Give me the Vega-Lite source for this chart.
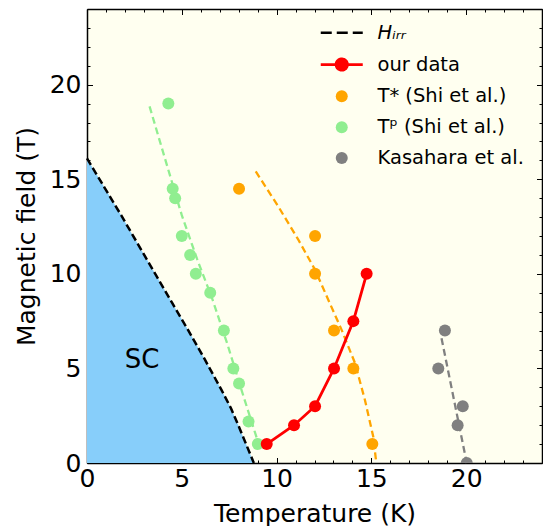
{
  "$schema": "https://vega.github.io/schema/vega-lite/v6.json",
  "autosize": "none",
  "width": 455,
  "height": 454,
  "padding": {"left": 87, "top": 9, "right": 1, "bottom": 63},
  "background": "white",
  "config": {
    "font": "DejaVu Sans",
    "view": {"stroke": null, "fill": "#fffff0"},
    "axis": {
      "grid": false, "zindex": 1, "domainColor": "black", "domainWidth": 1.5,
      "tickColor": "black", "tickWidth": 1, "labelColor": "black", "titleColor": "black",
      "titleFontWeight": "normal", "labelFontSize": 25, "titleFontSize": 25,
      "labelFlush": false, "labelOverlap": false, "labelFont": "DejaVu Sans", "titleFont": "DejaVu Sans"
    }
  },
  "datasets": {
    "hirr": [
      {"T": 0, "H": 16.1}, {"T": 0.9, "H": 14.6}, {"T": 1.8, "H": 13.1}, {"T": 2.7, "H": 11.55},
      {"T": 3.6, "H": 10.0}, {"T": 4.5, "H": 8.45}, {"T": 5.35, "H": 7.0}, {"T": 6.2, "H": 5.5},
      {"T": 7.1, "H": 3.85}, {"T": 7.6, "H": 2.88}, {"T": 8.0, "H": 1.95}, {"T": 8.8, "H": 0}
    ],
    "tp_fit": [
      {"T": 3.3, "H": 18.85}, {"T": 4.2, "H": 15.8}, {"T": 5.0, "H": 13.1}, {"T": 5.8, "H": 10.8},
      {"T": 6.6, "H": 8.7}, {"T": 7.4, "H": 6.3}, {"T": 8.2, "H": 3.7}, {"T": 9.15, "H": 0.7}
    ],
    "tstar_fit": [
      {"T": 8.9, "H": 15.41}, {"T": 10.09, "H": 13.56}, {"T": 11.15, "H": 11.8}, {"T": 12.03, "H": 10.21},
      {"T": 12.73, "H": 8.62}, {"T": 13.43, "H": 7.04}, {"T": 14.14, "H": 5.27}, {"T": 14.66, "H": 3.33},
      {"T": 15.1, "H": 1.39}, {"T": 15.26, "H": 0}
    ],
    "kas_fit": [
      {"T": 18.7, "H": 6.6}, {"T": 20.03, "H": 0}
    ],
    "our": [
      {"T": 9.48, "H": 1}, {"T": 10.92, "H": 2}, {"T": 12.03, "H": 3},
      {"T": 13.03, "H": 5}, {"T": 14.05, "H": 7.5}, {"T": 14.75, "H": 10}
    ],
    "points": [
      {"T": 8.02, "H": 14.5, "series": "T* (Shi et al.)"},
      {"T": 12.03, "H": 12, "series": "T* (Shi et al.)"},
      {"T": 12.03, "H": 10, "series": "T* (Shi et al.)"},
      {"T": 13.03, "H": 7, "series": "T* (Shi et al.)"},
      {"T": 14.05, "H": 5, "series": "T* (Shi et al.)"},
      {"T": 15.05, "H": 1, "series": "T* (Shi et al.)"},
      {"T": 4.29, "H": 19, "series": "Tᵖ (Shi et al.)"},
      {"T": 4.52, "H": 14.5, "series": "Tᵖ (Shi et al.)"},
      {"T": 4.65, "H": 14, "series": "Tᵖ (Shi et al.)"},
      {"T": 5.0, "H": 12, "series": "Tᵖ (Shi et al.)"},
      {"T": 5.44, "H": 11, "series": "Tᵖ (Shi et al.)"},
      {"T": 5.74, "H": 10, "series": "Tᵖ (Shi et al.)"},
      {"T": 6.5, "H": 9, "series": "Tᵖ (Shi et al.)"},
      {"T": 7.22, "H": 7, "series": "Tᵖ (Shi et al.)"},
      {"T": 7.72, "H": 5, "series": "Tᵖ (Shi et al.)"},
      {"T": 8.02, "H": 4.2, "series": "Tᵖ (Shi et al.)"},
      {"T": 8.52, "H": 2.2, "series": "Tᵖ (Shi et al.)"},
      {"T": 9.01, "H": 1, "series": "Tᵖ (Shi et al.)"},
      {"T": 18.88, "H": 7, "series": "Kasahara et al."},
      {"T": 18.53, "H": 5, "series": "Kasahara et al."},
      {"T": 19.82, "H": 3, "series": "Kasahara et al."},
      {"T": 19.55, "H": 2, "series": "Kasahara et al."},
      {"T": 20.03, "H": 0, "series": "Kasahara et al."},
      {"T": 9.48, "H": 1, "series": "our data"},
      {"T": 10.92, "H": 2, "series": "our data"},
      {"T": 12.03, "H": 3, "series": "our data"},
      {"T": 13.03, "H": 5, "series": "our data"},
      {"T": 14.05, "H": 7.5, "series": "our data"},
      {"T": 14.75, "H": 10, "series": "our data"}
    ],
    "sc_label": [{"T": 2.9, "H": 5.0, "label": "SC"}]
  },
  "resolve": {"axis": {"x": "independent", "y": "independent"}},
  "layer": [
    {
      "data": {"name": "hirr"},
      "mark": {"type": "area", "color": "#87cefa", "opacity": 1},
      "encoding": {
        "x": {"field": "T", "type": "quantitative", "scale": {"domain": [0, 24], "nice": false, "zero": false},
          "axis": {"orient": "bottom", "values": [0, 5, 10, 15, 20], "ticks": false, "domain": true,
            "title": "Temperature (K)", "labelPadding": 3, "titlePadding": 10}},
        "y": {"field": "H", "type": "quantitative", "scale": {"domain": [0, 24], "nice": false, "zero": false},
          "axis": {"orient": "left", "values": [0, 5, 10, 15, 20], "ticks": false, "domain": true,
            "title": "Magnetic field (T)", "labelPadding": 6, "titlePadding": 10}}
      }
    },
    {
      "data": {"name": "hirr"},
      "mark": {"type": "line", "color": "black", "strokeWidth": 2.5, "strokeDash": [7.5, 3.5]},
      "encoding": {
        "x": {"field": "T", "type": "quantitative", "scale": {"domain": [0, 24], "nice": false, "zero": false},
          "axis": {"orient": "bottom", "values": [0, 5, 10, 15, 20], "tickSize": -5.5, "labels": false, "domain": false, "title": null}},
        "y": {"field": "H", "type": "quantitative", "scale": {"domain": [0, 24], "nice": false, "zero": false},
          "axis": {"orient": "left", "values": [0, 5, 10, 15, 20], "tickSize": -5.5, "labels": false, "domain": false, "title": null}}
      }
    },
    {
      "data": {"name": "tp_fit"},
      "mark": {"type": "line", "color": "#90ee90", "strokeWidth": 2.3, "strokeDash": [7, 4]},
      "encoding": {
        "x": {"field": "T", "type": "quantitative", "scale": {"domain": [0, 24], "nice": false, "zero": false},
          "axis": {"orient": "bottom", "values": [1,2,3,4,6,7,8,9,11,12,13,14,16,17,18,19,21,22,23,24], "tickSize": -3, "labels": false, "domain": false, "title": null}},
        "y": {"field": "H", "type": "quantitative", "scale": {"domain": [0, 24], "nice": false, "zero": false},
          "axis": {"orient": "left", "values": [1,2,3,4,6,7,8,9,11,12,13,14,16,17,18,19,21,22,23,24], "tickSize": -3, "labels": false, "domain": false, "title": null}}
      }
    },
    {
      "data": {"name": "tstar_fit"},
      "mark": {"type": "line", "color": "orange", "strokeWidth": 2.3, "strokeDash": [7, 4]},
      "encoding": {
        "x": {"field": "T", "type": "quantitative", "scale": {"domain": [0, 24], "nice": false, "zero": false},
          "axis": {"orient": "top", "values": [0, 5, 10, 15, 20], "tickSize": -5.5, "labels": false, "domain": true, "title": null}},
        "y": {"field": "H", "type": "quantitative", "scale": {"domain": [0, 24], "nice": false, "zero": false},
          "axis": {"orient": "right", "values": [0, 5, 10, 15, 20], "tickSize": -5.5, "labels": false, "domain": true, "title": null}}
      }
    },
    {
      "data": {"name": "kas_fit"},
      "mark": {"type": "line", "color": "gray", "strokeWidth": 2.3, "strokeDash": [7, 4]},
      "encoding": {
        "x": {"field": "T", "type": "quantitative", "scale": {"domain": [0, 24], "nice": false, "zero": false},
          "axis": {"orient": "top", "values": [1,2,3,4,6,7,8,9,11,12,13,14,16,17,18,19,21,22,23,24], "tickSize": -3, "labels": false, "domain": false, "title": null}},
        "y": {"field": "H", "type": "quantitative", "scale": {"domain": [0, 24], "nice": false, "zero": false},
          "axis": {"orient": "right", "values": [1,2,3,4,6,7,8,9,11,12,13,14,16,17,18,19,21,22,23,24], "tickSize": -3, "labels": false, "domain": false, "title": null}}
      }
    },
    {
      "data": {"name": "our"},
      "mark": {"type": "line", "color": "red", "strokeWidth": 2.8},
      "encoding": {
        "x": {"field": "T", "type": "quantitative", "scale": {"domain": [0, 24], "nice": false, "zero": false}, "axis": null},
        "y": {"field": "H", "type": "quantitative", "scale": {"domain": [0, 24], "nice": false, "zero": false}, "axis": null}
      }
    },
    {
      "data": {"name": "points"},
      "mark": {"type": "point", "shape": "circle", "filled": true, "opacity": 1, "size": 144, "clip": true},
      "encoding": {
        "x": {"field": "T", "type": "quantitative", "scale": {"domain": [0, 24], "nice": false, "zero": false}, "axis": null},
        "y": {"field": "H", "type": "quantitative", "scale": {"domain": [0, 24], "nice": false, "zero": false}, "axis": null},
        "color": {
          "field": "series", "type": "nominal",
          "scale": {
            "domain": ["Hᵢᵣᵣ", "our data", "T* (Shi et al.)", "Tᵖ (Shi et al.)", "Kasahara et al."],
            "range": ["black", "red", "orange", "#90ee90", "gray"]
          },
          "legend": {
            "orient": "none", "legendX": 245, "legendY": 14, "title": null,
            "labelFont": "DejaVu Sans", "labelFontSize": 19.5, "labelColor": "black",
            "symbolSize": 144, "labelOffset": 26, "rowPadding": 9.8, "padding": 0,
            "encoding": {
              "symbols": {
                "shape": {"value": {"expr": "datum.value === 'Hᵢᵣᵣ' ? 'M-3.5,0H3.5' : datum.value === 'our data' ? 'M-3.5,0H3.5M0.95,0A0.95,0.95 0 1 1 -0.95,0A0.95,0.95 0 1 1 0.95,0Z' : 'circle'"}},
                "strokeDash": {"value": {"expr": "datum.value === 'Hᵢᵣᵣ' ? [11, 5] : [1, 0]"}},
                "stroke": {"value": {"expr": "scale('color', datum.value)"}},
                "strokeWidth": {"value": {"expr": "datum.value === 'Hᵢᵣᵣ' || datum.value === 'our data' ? 2.7 : 0"}},
                "fill": {"value": {"expr": "scale('color', datum.value)"}},
                "opacity": {"value": 1},
                "fillOpacity": {"value": 1}
              },
              "labels": {
                "fontStyle": {"value": {"expr": "datum.value === 'Hᵢᵣᵣ' ? 'italic' : 'normal'"}}
              }
            }
          }
        }
      }
    },
    {
      "data": {"name": "sc_label"},
      "mark": {"type": "text", "fontSize": 26, "align": "center", "baseline": "alphabetic", "color": "black", "font": "DejaVu Sans"},
      "encoding": {
        "x": {"field": "T", "type": "quantitative", "scale": {"domain": [0, 24], "nice": false, "zero": false}, "axis": null},
        "y": {"field": "H", "type": "quantitative", "scale": {"domain": [0, 24], "nice": false, "zero": false}, "axis": null},
        "text": {"field": "label"}
      }
    }
  ]
}
